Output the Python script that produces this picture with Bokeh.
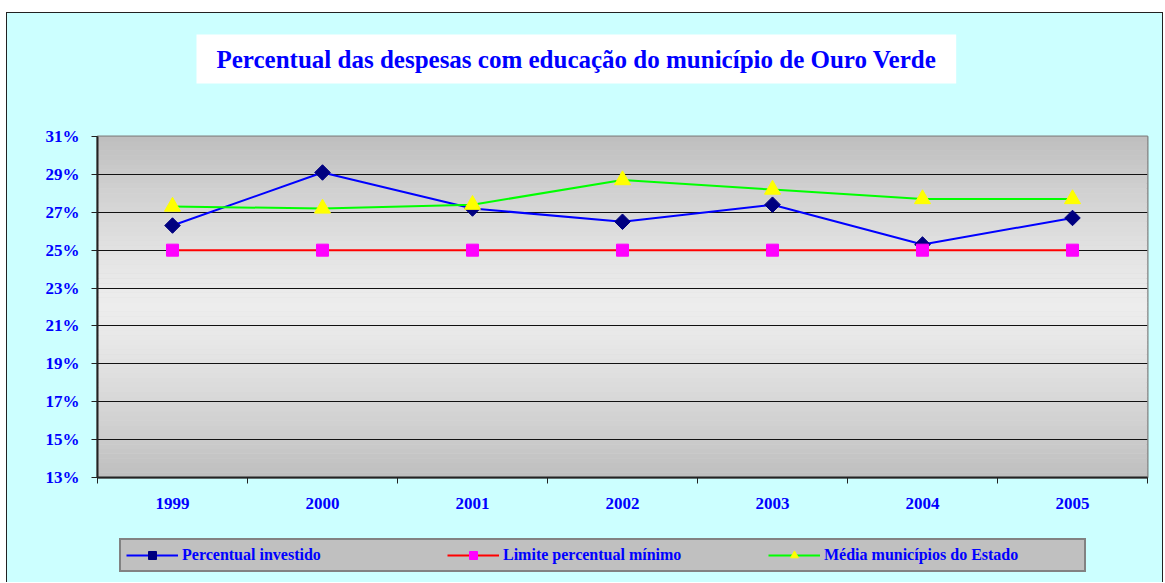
from bokeh.plotting import figure
from bokeh.layouts import column
from bokeh.models import Range1d, FixedTicker, Legend, LegendItem, Title
from bokeh.embed import file_html
from bokeh.resources import INLINE
import math

years = ["1999", "2000", "2001", "2002", "2003", "2004", "2005"]
investido = [26.3, 29.1, 27.2, 26.5, 27.4, 25.3, 26.7]
limite = [25, 25, 25, 25, 25, 25, 25]
media = [27.3, 27.2, 27.4, 28.7, 28.2, 27.7, 27.7]
y_ticks = [13, 15, 17, 19, 21, 23, 25, 27, 29, 31]
series_names = ["Percentual investido", "Limite percentual mínimo", "Média municípios do Estado"]
title_text = "Percentual das despesas com educação do município de Ouro Verde"

BG = "#CCFFFF"
n = len(years)
xs = [i + 0.5 for i in range(n)]
ymin, ymax = y_ticks[0], y_ticks[-1]

p = figure(frame_width=1050, frame_height=341, output_backend="svg", toolbar_location=None,
           x_range=Range1d(0, n), y_range=Range1d(ymin, ymax),
           min_border_left=90, min_border_right=15, min_border_top=123, min_border_bottom=55,
           background_fill_color="#d8d8d8", border_fill_color=BG)
p.title = None

# gradient background (decorative)
steps = 72
h = (ymax - ymin) / steps
mid = (ymax + ymin) / 2
bots, tops, cols = [], [], []
for k in range(steps):
    b = ymin + k * h
    c = b + h / 2
    t = abs(c - mid) / (mid - ymin)
    v = int(round(237 - (237 - 190) * t ** 1.3))
    bots.append(b)
    tops.append(b + h + 0.01)
    cols.append("#%02x%02x%02x" % (v, v, v))
q = p.quad(left=0, right=n, bottom=bots, top=tops, fill_color=cols, line_color=None)
q.level = "image"

# spacer between frame and title, then the title
spacer = Title(text=" ", text_font_size="45px", standoff=0, text_color=BG)
p.add_layout(spacer, "above")
tt = Title(text=title_text, text_font="Liberation Serif", text_font_style="bold",
           text_font_size="25px", text_color="#0000FF", align="left", offset=99,
           background_fill_color="white", padding=(20, 11), standoff=0)
p.add_layout(tt, "above")

# axes
p.yaxis.ticker = FixedTicker(ticks=y_ticks)
p.yaxis.major_label_overrides = {v: f"{v}%" for v in y_ticks}
p.xaxis.ticker = FixedTicker(ticks=xs, minor_ticks=list(range(n + 1)))
p.xaxis.major_label_overrides = {x: y for x, y in zip(xs, years)}
for ax in (p.xaxis[0], p.yaxis[0]):
    ax.major_label_text_font = "Liberation Serif"
    ax.major_label_text_font_style = "bold"
    ax.major_label_text_font_size = "17px"
    ax.major_label_text_color = "#0000FF"
    ax.axis_line_color = "#222222"
    ax.axis_line_width = 2
p.xaxis.major_tick_line_color = None
p.xaxis.minor_tick_line_color = "#222222"
p.xaxis.minor_tick_in = 0
p.xaxis.minor_tick_out = 6
p.xaxis.major_label_standoff = 14
p.yaxis.minor_tick_line_color = None
p.yaxis.major_tick_in = 0
p.yaxis.major_tick_out = 6
p.yaxis.major_tick_line_color = "#222222"
p.yaxis.major_label_standoff = 12

p.xgrid.grid_line_color = None
p.ygrid.grid_line_color = "#111111"
p.ygrid.grid_line_width = 1
p.outline_line_color = "#808080"
p.outline_line_width = 2

styles = [
    dict(line_color="#0000FF", marker="square", angle=math.pi / 4, size=11, mcolor="#000080"),
    dict(line_color="#FF0000", marker="square", angle=0, size=12, mcolor="#FF00FF"),
    dict(line_color="#00FF00", marker="triangle", angle=0, size=16, mcolor="#FFFF00"),
]
series = [investido, limite, media]

for vals, st in zip(series, styles):
    p.line(xs, vals, line_color=st["line_color"], line_width=2)
    p.scatter(xs, vals, marker=st["marker"], angle=st["angle"], size=st["size"],
              fill_color=st["mcolor"], line_color=st["mcolor"])

# legend strip (separate figure below; its series lie outside its range, only keys show)
lg = figure(width=1155, height=50, output_backend="svg", toolbar_location=None,
            x_range=Range1d(0, 1), y_range=Range1d(0, 1),
            x_axis_location=None, y_axis_location=None, min_border=0,
            background_fill_color=BG, border_fill_color=BG, outline_line_color=None)
lg.grid.visible = False
items = []
for name, vals, st in zip(series_names, series, styles):
    r1 = lg.line(xs, vals, line_color=st["line_color"], line_width=2)
    r2 = lg.scatter(xs, vals, marker=st["marker"], angle=st["angle"], size=st["size"],
                    fill_color=st["mcolor"], line_color=st["mcolor"])
    items.append(LegendItem(label=name, renderers=[r1, r2], index=0))
legend = Legend(items=items, orientation="horizontal", location=(22, 10),
                label_text_font="Liberation Serif", label_text_font_style="bold",
                label_text_font_size="16px", label_text_color="#0000FF",
                label_width=255, label_height=20, glyph_width=52, glyph_height=20,
                label_standoff=4, spacing=10, padding=5, margin=0,
                background_fill_color="#C0C0C0", background_fill_alpha=1,
                border_line_color="#444444", border_line_width=2)
lg.add_layout(legend, "center")

layout = column(p, lg, spacing=0,
                styles={"margin-top": "12px", "margin-left": "6px",
                        "background-color": BG,
                        "border-top": "1px solid #222", "border-left": "1px solid #222",
                        "border-right": "1px solid #222"})

open("out.html", "w").write(file_html(layout, INLINE))
